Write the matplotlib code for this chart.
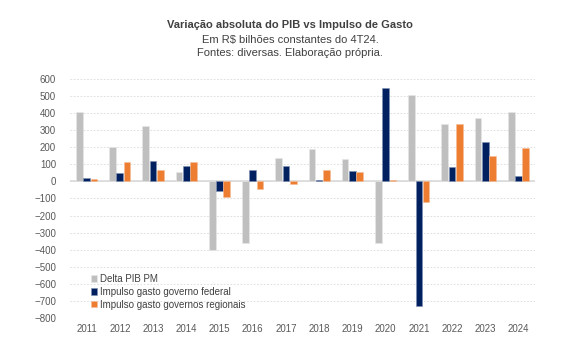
import numpy as np
import matplotlib.pyplot as plt

plt.rcParams['font.family'] = ['Liberation Sans', 'DejaVu Sans']

# Dados (R$ bilhões constantes do 4T24)
anos = ['2011', '2012', '2013', '2014', '2015', '2016', '2017',
        '2018', '2019', '2020', '2021', '2022', '2023', '2024']
delta_pib = [408, 203, 326, 53, -400, -362, 137, 188, 131, -362, 508, 336, 371, 404]
gasto_federal = [22, 49, 121, 92, -55, 66, 90, 8, 59, 545, -728, 82, 230, 29]
gasto_regional = [15, 111, 64, 111, -92, -45, -15, 66, 53, 5, -121, 336, 150, 195]

fig = plt.figure(figsize=(5.76, 3.46), dpi=100)
ax = fig.add_axes([0.1215, 0.081, 0.8075, 0.691])

x = np.arange(len(anos))
w = 0.2
gap = 0.02
ax.bar(x - w - gap, delta_pib, w, color='#BFBFBF', edgecolor='#E8E8E8', linewidth=0.4,
       label='Delta PIB PM', zorder=3)
ax.bar(x, gasto_federal, w, color='#002060', edgecolor='#8090B0', linewidth=0.4,
       label='Impulso gasto governo federal', zorder=3)
ax.bar(x + w + gap, gasto_regional, w, color='#ED7D31', edgecolor='#F6BE98', linewidth=0.4,
       label='Impulso gasto governos regionais', zorder=3)

ax.set_xlim(-0.5, len(anos) - 0.5)
ax.set_ylim(-800, 600)
ax.set_yticks(range(-800, 601, 100))
ax.set_xticks(x)
ax.set_xticklabels(anos)
ax.grid(axis='y', color='#D9D9D9', linestyle=(0, (2, 2)), linewidth=0.6, zorder=0)
ax.axhline(0, color='#D9D9D9', linewidth=1.2, zorder=2)
for s in ax.spines.values():
    s.set_visible(False)
ax.tick_params(length=0, labelsize=7, colors='#595959', pad=4)
ax.tick_params(axis='y', pad=10)

leg = ax.legend(loc='lower left', bbox_to_anchor=(0.037, 0.018), frameon=False, fontsize=7,
                handlelength=0.6, handleheight=0.6, handletextpad=0.3, labelspacing=0.3,
                borderaxespad=0)
for t in leg.get_texts():
    t.set_color('#404040')

fig.text(0.504, 0.918, 'Variação absoluta do PIB vs Impulso de Gasto', ha='center',
         fontsize=8, fontweight='bold', color='#404040')
fig.text(0.504, 0.877, 'Em R$ bilhões constantes do 4T24.', ha='center',
         fontsize=8, color='#404040')
fig.text(0.504, 0.838, 'Fontes: diversas. Elaboração própria.', ha='center',
         fontsize=8, color='#404040')

fig.savefig('out.png', dpi=100)
